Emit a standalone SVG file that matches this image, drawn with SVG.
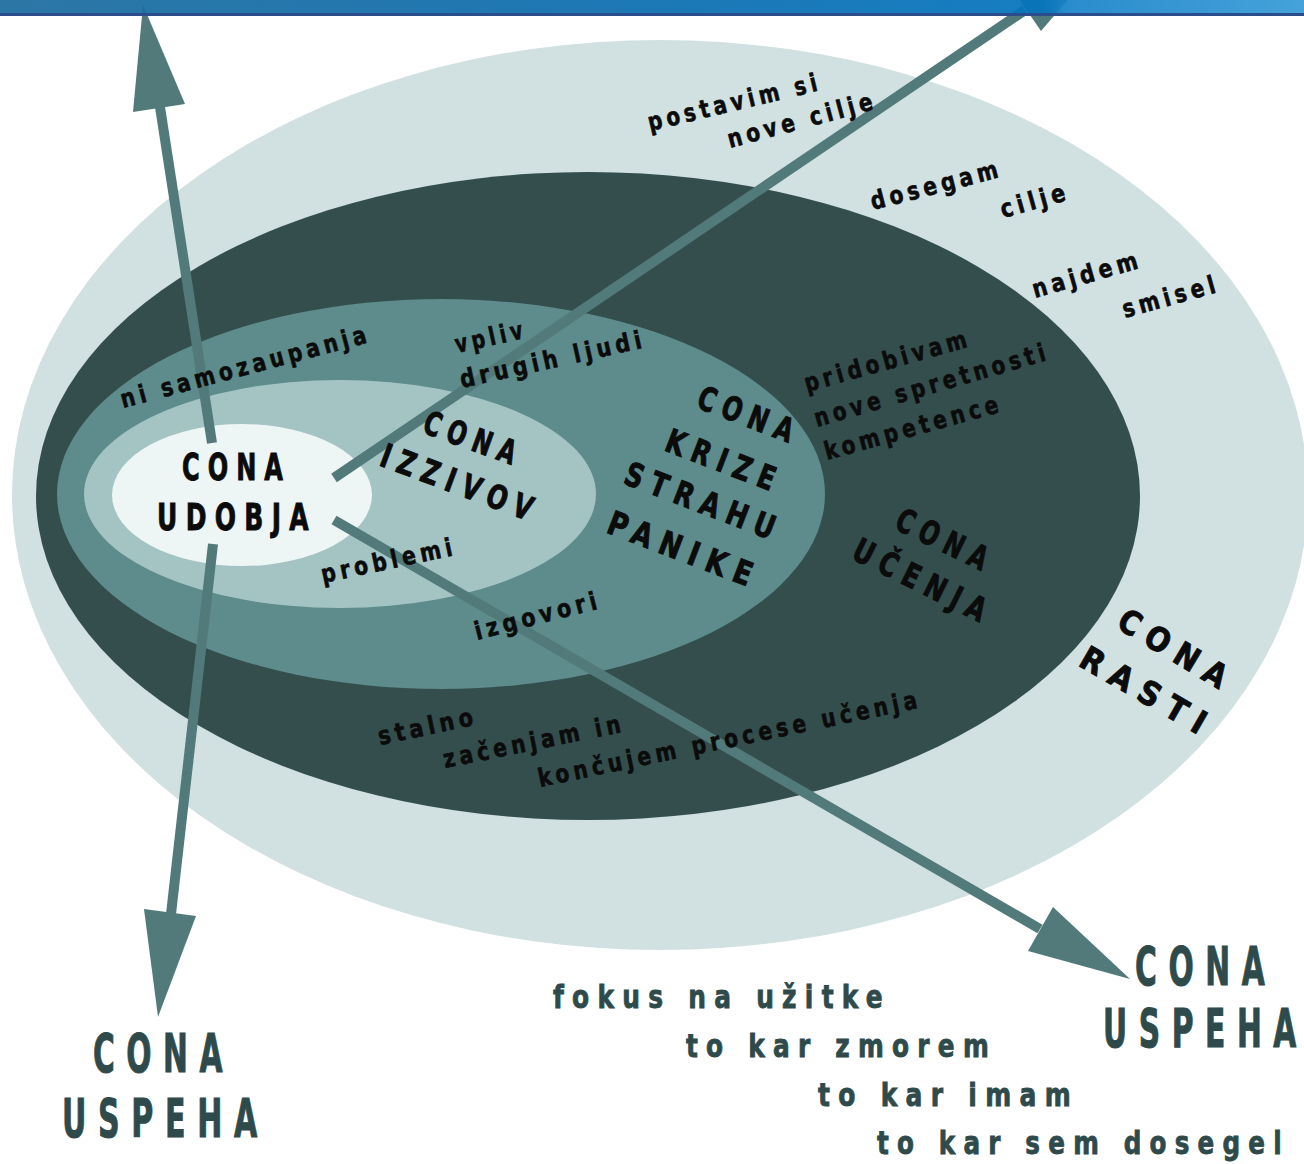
<svg xmlns="http://www.w3.org/2000/svg" width="1304" height="1164" viewBox="0 0 1304 1164">
<defs>
<linearGradient id="bar" x1="0" y1="0" x2="1" y2="0">
<stop offset="0" stop-color="#1c6c9e"/>
<stop offset="0.5" stop-color="#0b6eb0"/>
<stop offset="0.8" stop-color="#0474bd"/>
<stop offset="0.82" stop-color="#1a84c9"/>
<stop offset="1" stop-color="#379bd7"/>
</linearGradient>
</defs>
<style>
text{font-family:"DejaVu Sans","Liberation Sans",sans-serif;font-weight:bold;font-stretch:condensed;fill:#0b0b0b;stroke:#0b0b0b;stroke-width:0.6px}
.zone{font-size:33px;letter-spacing:0.3em;stroke-width:0.9px}
.big{font-size:38px;letter-spacing:0.3em;stroke-width:0.9px}
.small{font-size:25px;letter-spacing:0.2em}
.foot{font-size:32px;letter-spacing:0.3em;fill:#2e4a4a;stroke:#2e4a4a;stroke-width:0.8px}
.uspeh{font-size:54px;letter-spacing:0.35em;fill:#2e4a4a;stroke:#2e4a4a;stroke-width:1px}
.nols{letter-spacing:0}
.shaft{stroke:#527a7a;stroke-width:10;fill:none}
.head{fill:#527a7a}
</style>
<rect width="1304" height="1164" fill="#ffffff"/>

<g id="zone-rasti">
<ellipse cx="660" cy="495" rx="648" ry="455" fill="#d1e1e1"/>
</g>
<g id="zone-ucenja">
<ellipse cx="588" cy="496" rx="552" ry="324" fill="#344e4e"/>
</g>
<g id="zone-krize">
<ellipse cx="441" cy="494" rx="384" ry="195" fill="#5e8b8b"/>
</g>
<g id="zone-izzivov">
<ellipse cx="340" cy="494" rx="256" ry="114" fill="#a4c4c4"/>
</g>
<g id="zone-udobja">
<ellipse cx="242" cy="495" rx="130" ry="71" fill="#eef5f5"/>
</g>

<g id="connectors">
<line class="shaft" x1="212" y1="443" x2="160" y2="107"/>
<polygon class="head" points="143,5 185,104 133,112"/>
<line class="shaft" x1="213" y1="544" x2="171" y2="914"/>
<polygon class="head" points="144,909 196,916 158,1017"/>
<line class="shaft" x1="334" y1="478" x2="1025" y2="10"/>
<polygon class="head" points="1041,31 1010,-14 1108,-47"/>
<line class="shaft" x1="334" y1="520" x2="1040" y2="929"/>
<polygon class="head" points="1053,907 1028,951 1130,979"/>
</g>

<rect x="0" y="0" width="1304" height="13" fill="url(#bar)" opacity="0.93"/>
<rect x="0" y="13" width="1304" height="3" fill="#2b4d8c"/>

<g id="label-udobja">
<text class="big" x="182" y="480" textLength="109" lengthAdjust="spacingAndGlyphs">CONA</text>
<text class="big" x="157" y="530" textLength="160" lengthAdjust="spacingAndGlyphs">UDOBJA</text>
</g>
<g id="label-izzivov">
<text class="zone" transform="translate(421,432) rotate(20)" textLength="104" lengthAdjust="spacingAndGlyphs">CONA</text>
<text class="zone" transform="translate(378,465) rotate(20.5)" textLength="168" lengthAdjust="spacingAndGlyphs">IZZIVOV</text>
</g>
<g id="label-krize">
<text class="zone" transform="translate(695,407) rotate(21)" textLength="108" lengthAdjust="spacingAndGlyphs">CONA</text>
<text class="zone" transform="translate(663,450) rotate(21)" textLength="123" lengthAdjust="spacingAndGlyphs">KRIZE</text>
<text class="zone" transform="translate(622,483) rotate(21)" textLength="167" lengthAdjust="spacingAndGlyphs">STRAHU</text>
<text class="zone" transform="translate(605,532) rotate(21)" textLength="161" lengthAdjust="spacingAndGlyphs">PANIKE</text>
</g>
<g id="label-ucenja">
<text class="zone" transform="translate(893,528) rotate(26)" textLength="106" lengthAdjust="spacingAndGlyphs">CONA</text>
<text class="zone" transform="translate(850,558) rotate(26.5)" textLength="153" lengthAdjust="spacingAndGlyphs">UČENJA</text>
</g>
<g id="label-rasti">
<text class="zone" transform="translate(1115,627) rotate(31)" textLength="131" lengthAdjust="spacingAndGlyphs">CONA</text>
<text class="zone" transform="translate(1077,665) rotate(30)" textLength="150" lengthAdjust="spacingAndGlyphs">RASTI</text>
</g>

<g id="phrases">
<text class="small" transform="translate(123,408) rotate(-15)" textLength="258" lengthAdjust="spacingAndGlyphs">ni samozaupanja</text>
<text class="small" transform="translate(457,353) rotate(-12.5)" textLength="73" lengthAdjust="spacingAndGlyphs">vpliv</text>
<text class="small" transform="translate(462,388) rotate(-12.5)" textLength="190" lengthAdjust="spacingAndGlyphs">drugih ljudi</text>
<text class="small" transform="translate(323,583) rotate(-12)" textLength="138" lengthAdjust="spacingAndGlyphs">problemi</text>
<text class="small" transform="translate(477,640) rotate(-14.5)" textLength="130" lengthAdjust="spacingAndGlyphs">izgovori</text>
<text class="small" transform="translate(807,392) rotate(-15.6)" textLength="172" lengthAdjust="spacingAndGlyphs">pridobivam</text>
<text class="small" transform="translate(817,427) rotate(-16.2)" textLength="244" lengthAdjust="spacingAndGlyphs">nove spretnosti</text>
<text class="small" transform="translate(827,460) rotate(-15.5)" textLength="184" lengthAdjust="spacingAndGlyphs">kompetence</text>
<text class="small" transform="translate(650,131) rotate(-13.5)" textLength="178" lengthAdjust="spacingAndGlyphs">postavim si</text>
<text class="small" transform="translate(730,148) rotate(-15)" textLength="154" lengthAdjust="spacingAndGlyphs">nove cilje</text>
<text class="small" transform="translate(873,210) rotate(-14.5)" textLength="135" lengthAdjust="spacingAndGlyphs">dosegam</text>
<text class="small" transform="translate(1003,218) rotate(-15.5)" textLength="71" lengthAdjust="spacingAndGlyphs">cilje</text>
<text class="small" transform="translate(1035,298) rotate(-16)" textLength="113" lengthAdjust="spacingAndGlyphs">najdem</text>
<text class="small" transform="translate(1125,318) rotate(-15.6)" textLength="100" lengthAdjust="spacingAndGlyphs">smisel</text>
<text class="small" transform="translate(380,745) rotate(-12)" textLength="101" lengthAdjust="spacingAndGlyphs">stalno</text>
<text class="small" transform="translate(445,768) rotate(-11.5)" textLength="185" lengthAdjust="spacingAndGlyphs">začenjam in</text>
<text class="small" transform="translate(540,787) rotate(-11.8)" textLength="391" lengthAdjust="spacingAndGlyphs">končujem procese učenja</text>
</g>

<g id="uspeh-left">
<text class="uspeh" x="93" y="1072" textLength="141" lengthAdjust="spacingAndGlyphs">CONA</text>
<text class="uspeh" x="62" y="1137" textLength="207" lengthAdjust="spacingAndGlyphs">USPEHA</text>
</g>
<g id="uspeh-right">
<text class="uspeh" transform="translate(1135,985) scale(0.612,1)">CON<tspan class="nols">A</tspan></text>
<text class="uspeh" transform="translate(1103,1047) scale(0.612,1)">USPEH<tspan class="nols">A</tspan></text>
</g>
<g id="focus-list">
<text class="foot" x="553" y="1008" textLength="338" lengthAdjust="spacingAndGlyphs">fokus na užitke</text>
<text class="foot" x="686" y="1057" textLength="311" lengthAdjust="spacingAndGlyphs">to kar zmorem</text>
<text class="foot" x="818" y="1106" textLength="261" lengthAdjust="spacingAndGlyphs">to kar imam</text>
<text class="foot" transform="translate(877,1154) scale(0.855,1)">to kar sem dosege<tspan class="nols">l</tspan></text>
</g>
</svg>
